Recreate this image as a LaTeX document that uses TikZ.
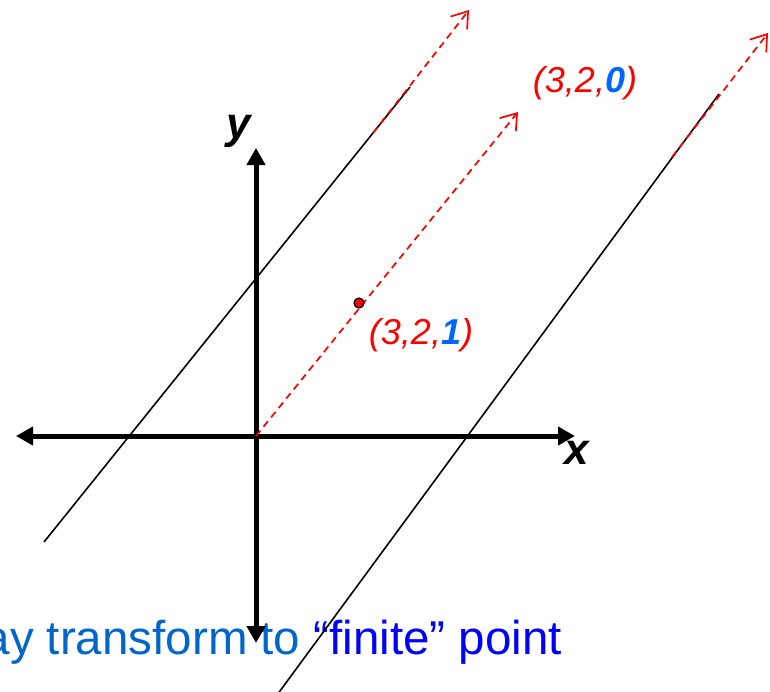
\documentclass[tikz,border=0pt]{standalone}
\usepackage{fontspec}
\setmainfont{Liberation Sans}
\usetikzlibrary{arrows.meta}
\definecolor{lblue}{RGB}{0,102,204}
\definecolor{dblue}{RGB}{0,0,255}
\definecolor{nblue}{RGB}{0,102,255}
\definecolor{myred}{RGB}{255,0,0}
\tikzset{
  axis/.style={line width=5pt, {Triangle[length=17pt,width=18pt]}-{Triangle[length=17pt,width=18pt]}},
  thinline/.style={line width=1.6pt, black},
  reddash/.style={line width=1.7pt, myred, dash pattern=on 7pt off 5pt, -{Straight Barb[length=15pt,width=21pt]}},
  coordlabel/.style={text=myred, font=\fontsize{36}{40}\selectfont\itshape, inner sep=0pt},
  axislabel/.style={font=\fontsize{44}{48}\selectfont\bfseries\itshape, inner sep=0pt}
}
\begin{document}
\begin{tikzpicture}[x=1pt,y=-1pt]
\useasboundingbox (0,0) rectangle (770,691);
% axes
\coordinate (L) at (16,436);
\coordinate (R) at (575,436);
\coordinate (T) at (256,148);
\coordinate (B) at (256,643);
\coordinate (O) at (256,436);
% bottom text (drawn first so the axis passes over it)
\node[anchor=base east, inner sep=0pt, font=\fontsize{47.5}{52}\selectfont] (caption) at (562,654)
  {\textcolor{lblue}{ay transform to }\textcolor{dblue}{“finite” point}};
\draw[axis] (L) -- (R);
\draw[axis] (B) -- (T);
% thin black lines
\coordinate (a1) at (44,542);
\coordinate (a2) at (410,87);
\coordinate (b1) at (277,695);
\coordinate (b2) at (719,94);
\draw[thinline] (a1) -- (a2);
\draw[thinline] (b1) -- (b2);
% red dashed lines
\coordinate (r1s) at (373,133);
\coordinate (r1e) at (469,10);
\coordinate (r2e) at (518,112);
\coordinate (r3s) at (672,157);
\coordinate (r3e) at (768,33);
\draw[reddash] (r1s) -- (r1e);
\draw[reddash] (O) -- (r2e);
\draw[reddash] (r3s) -- (r3e);
% point
\node[circle, fill=myred, draw=black, line width=1.3pt, inner sep=0pt, minimum size=10pt] (dot) at (359,303) {};
% labels
\node[coordlabel] (l321) at (421,335) {(3,2,\textcolor{nblue}{\bfseries 1})};
\node[coordlabel] (l320) at (585,83) {(3,2,\textcolor{nblue}{\bfseries 0})};
\node[axislabel] (xl) at (577,453) {x};
\node[axislabel] (yl) at (239,131) {y};
\end{tikzpicture}
\end{document}
